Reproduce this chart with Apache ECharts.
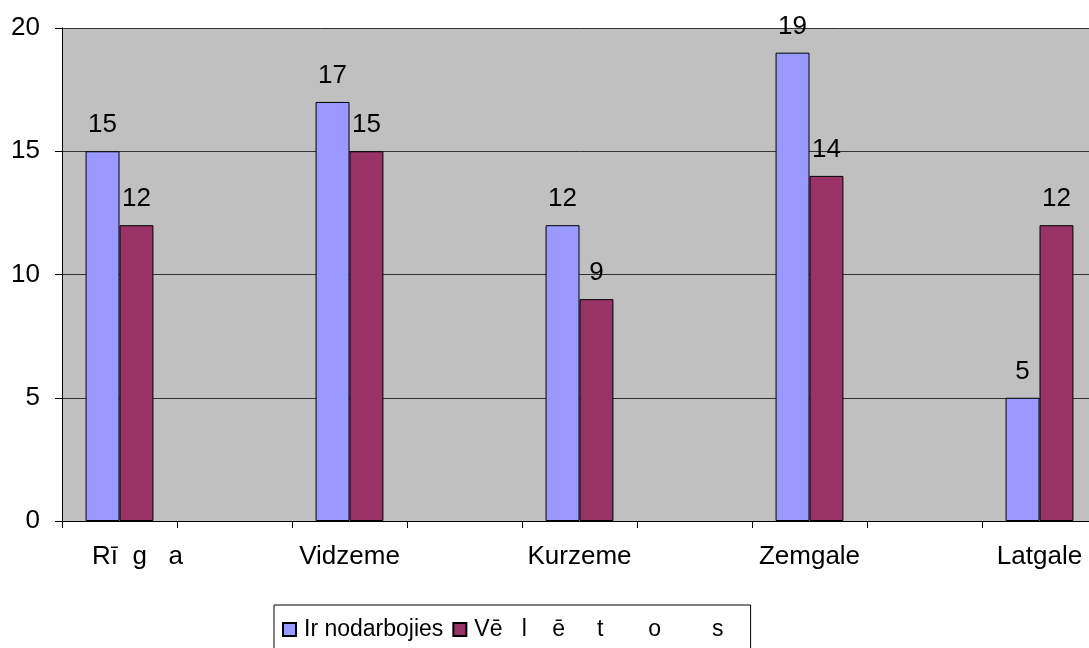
<!DOCTYPE html>
<html>
<head>
<meta charset="utf-8">
<script src="https://cdn.jsdelivr.net/npm/echarts@6/dist/echarts.min.js"></script>
<style>
  html, body { margin: 0; padding: 0; background: #fff; overflow: hidden; }
  /* plot area runs a little past the right edge of the window */
  #chart { width: 1097px; height: 648px; }
</style>
</head>
<body>
<div id="chart"></div>
<script>
// Regions and their counts
const regions = ['Rī  g   a', 'Vidzeme', 'Kurzeme', 'Zemgale', 'Latgale'];
const seriesNames = ['Ir nodarbojies', 'Vē   l    ē     t       o        s'];
const doneValues = [15, 17, 12, 19, 5];
const wantValues = [12, 15, 9, 14, 12];
const yTicks = { min: 0, max: 20, interval: 5 };

// Each region is followed by an empty spacer slot on the category axis
const slots = [];
const doneSlots = [];
const wantSlots = [];
regions.forEach((r, i) => {
  slots.push(i === 0 ? { value: r, textStyle: { padding: [0, 0, 0, 36] } } : r);
  doneSlots.push(doneValues[i]);
  wantSlots.push(wantValues[i]);
  if (i < regions.length - 1) {
    slots.push('');
    doneSlots.push('-');
    wantSlots.push('-');
  }
});

const font = 'Liberation Sans, Arial, sans-serif';
const labelStyle = {
  show: true,
  position: 'top',
  distance: 13,
  color: '#000',
  fontFamily: font,
  fontSize: 26
};

const chart = echarts.init(document.getElementById('chart'), null, { renderer: 'canvas' });
chart.setOption({
  animation: false,
  backgroundColor: '#fff',
  grid: {
    left: 62,
    top: 28,
    right: 0,
    bottom: 127,
    show: true,
    backgroundColor: '#C0C0C0',
    borderWidth: 0
  },
  legend: {
    left: 274,
    top: 605,
    orient: 'horizontal',
    icon: 'rect',
    padding: [13, 27, 30, 8],
    itemGap: 9,
    itemWidth: 13,
    itemHeight: 13,
    borderColor: '#000',
    borderWidth: 1,
    textStyle: { color: '#000', fontFamily: font, fontSize: 23, padding: [0, 0, 0, 3] },
    data: seriesNames
  },
  xAxis: {
    type: 'category',
    data: slots,
    boundaryGap: true,
    axisLine: { lineStyle: { color: '#000', width: 1 } },
    axisTick: { show: true, interval: 0, length: 7, lineStyle: { color: '#000' } },
    axisLabel: { interval: 0, margin: 23, color: '#000', fontFamily: font, fontSize: 26 },
    splitLine: { show: false }
  },
  yAxis: {
    type: 'value',
    min: yTicks.min,
    max: yTicks.max,
    interval: yTicks.interval,
    axisLine: { show: true, lineStyle: { color: '#000', width: 1 } },
    axisTick: { show: true, length: 7, lineStyle: { color: '#000' } },
    axisLabel: { margin: 22, color: '#000', fontFamily: font, fontSize: 26 },
    splitLine: { show: true, lineStyle: { color: '#333', width: 1 } }
  },
  series: [
    {
      name: seriesNames[0],
      type: 'bar',
      data: doneSlots,
      barGap: '0%',
      barCategoryGap: '41%',
      itemStyle: { color: '#9999FF', borderColor: '#000', borderWidth: 1 },
      label: labelStyle
    },
    {
      name: seriesNames[1],
      type: 'bar',
      data: wantSlots,
      barGap: '0%',
      barCategoryGap: '41%',
      itemStyle: { color: '#993366', borderColor: '#000', borderWidth: 1 },
      label: labelStyle
    }
  ]
});
</script>
</body>
</html>
